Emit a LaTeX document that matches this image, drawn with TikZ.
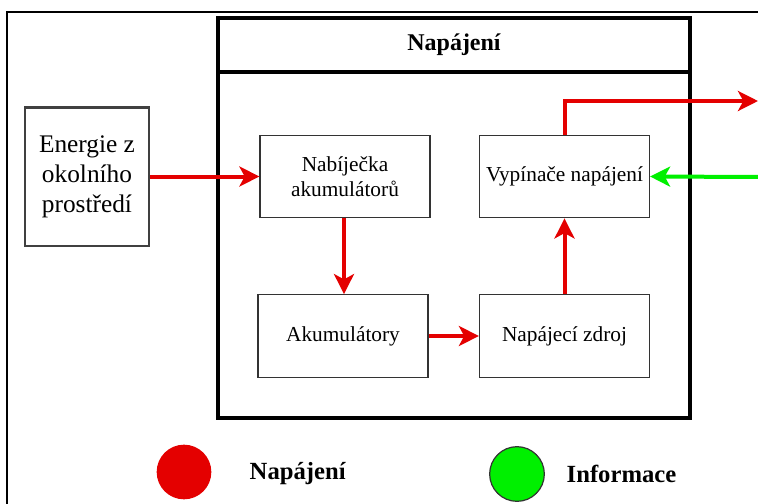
\documentclass[tikz,border=0pt]{standalone}
\usepackage{fontspec}
\setmainfont{Liberation Serif}
\usetikzlibrary{arrows.meta}
\definecolor{pwr}{RGB}{228,0,0}
\definecolor{inf}{RGB}{0,240,0}
\tikzset{
  box/.style={draw=black!80, line width=0.9pt, minimum width=127.5pt, minimum height=62pt, align=center, font=\fontsize{16}{19}\selectfont, inner sep=1pt},
  pline/.style={draw=pwr, line width=3pt, -{Stealth[length=15pt,width=15pt,inset=4pt]}},
  iline/.style={draw=inf, line width=3pt, -{Stealth[length=15pt,width=15pt,inset=4pt]}},
}
\begin{document}
\begin{tikzpicture}[x=0.75pt,y=-0.75pt]
\useasboundingbox (0,0) rectangle (758,504);
\clip (0,0) rectangle (758,504);
\fill[white] (0,0) rectangle (758,504);
% outer frame
\draw[black, line width=1.2pt] (7,12) rectangle (780,530);
% Napajeni group
\draw[black, line width=2.4pt] (218,18) rectangle (690,418);
\draw[black, line width=2.4pt] (218,72) -- (690,72);
\node[font=\fontsize{18}{21}\selectfont\bfseries] (title) at (454,45) {Napájení};
% Energie
\node[draw=black!75, line width=2pt, minimum width=93pt, minimum height=104pt, align=center, font=\fontsize{19}{22.5}\selectfont, inner sep=1pt] (env) at (87,176.5) {Energie z\\okolního\\prostředí};
% inner boxes
\node[box] (nab) at (345,176.5) {Nabíječka\\akumulátorů};
\node[box] (vyp) at (564.5,176.5) {Vypínače napájení};
\node[box] (aku) at (343,336) {Akumulátory};
\node[box] (zdr) at (564.5,336) {Napájecí zdroj};
\coordinate (outR) at (758,101);
\coordinate (inR) at (760,177);
% connectors
\draw[pline] (env.east) -- (nab.west);
\draw[pline] (nab.south -| 344,0) -- (aku.north -| 344,0);
\draw[pline] (aku.east) -- (zdr.west);
\draw[pline] (zdr.north) -- (vyp.south);
\draw[pline] (vyp.north) |- (outR);
\draw[iline] (inR) -- (vyp.east);
% legend
\node[circle, fill=pwr, minimum size=41pt, inner sep=0pt] (lr) at (184,472) {};
\node[font=\fontsize{18.5}{22}\selectfont\bfseries, anchor=west] (lrt) at (245,474) {Napájení};
\node[circle, fill=inf, draw=black!80, line width=0.9pt, minimum size=41pt, inner sep=0pt] (lg) at (517,474) {};
\node[font=\fontsize{18.5}{22}\selectfont\bfseries, anchor=west] (lgt) at (562,474) {Informace};
\end{tikzpicture}
\end{document}
